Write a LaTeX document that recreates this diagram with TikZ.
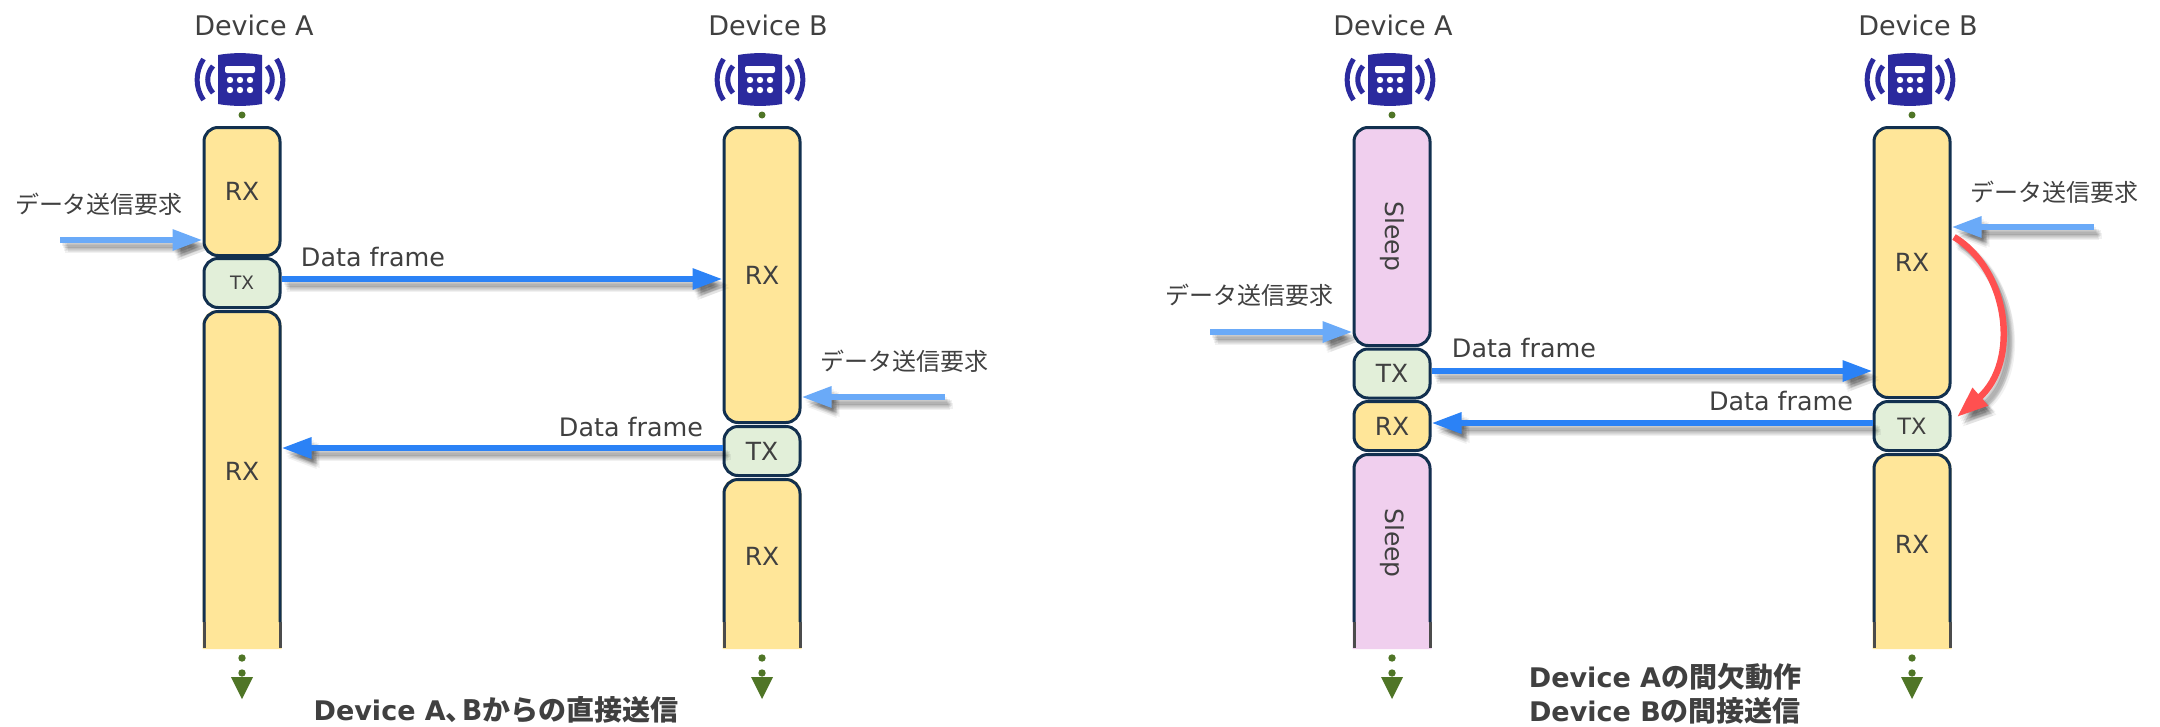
\documentclass[tikz,border=0pt]{standalone}
\usepackage{graphicx}
\usepackage{fontspec}
\setmainfont{DejaVu Sans}
\newfontfamily\cjk{Noto Sans CJK JP}
\usetikzlibrary{arrows.meta,calc}
\definecolor{txt}{HTML}{404040}
\definecolor{navy}{HTML}{12304F}
\definecolor{bandy}{HTML}{FFE699}
\definecolor{bandg}{HTML}{E2EFD9}
\definecolor{bandp}{HTML}{F0CFEE}
\definecolor{lblue}{HTML}{6AAAF8}
\definecolor{dblue}{HTML}{2B82F6}
\definecolor{redarr}{HTML}{FF5050}
\definecolor{devblue}{HTML}{2B2A9E}
\definecolor{grn}{HTML}{4F7526}
\newcommand\fs[1]{\fontsize{#1}{#1}\selectfont}
\tikzset{
  bandbox/.style={draw=navy,line width=3pt,rounded corners=14pt,minimum width=76pt,inner sep=0pt,text=txt,font=\fs{25}},
  lab/.style={text=txt,inner sep=0pt,font=\fs{25.4}},
  devlab/.style={text=txt,inner sep=0pt,font=\fs{27}},
  reqlab/.style={text=txt,inner sep=0pt,font=\fs{24}\cjk},
  titlelab/.style={text=txt,inner sep=0pt,align=center,font=\fs{27}\bfseries},
  reqarrow/.style={line width=6pt,lblue,-{Triangle[length=30pt,width=20pt]}},
  dataarrow/.style={line width=6pt,dblue,-{Triangle[length=30pt,width=20pt]}},
  redarrow/.style={line width=6.5pt,redarr,-{Triangle[length=31pt,width=22pt]}}
}
\newcommand\shadowed[2]{%
  \foreach \sx/\sy in {2/-3,3/-5,5/-5,6/-7,4/-8,7/-6,5/-10,8/-9}{%
    \draw[#1,draw=black,opacity=.055,transform canvas={shift={(\sx pt,\sy pt)}}] #2;}
  \draw[#1] #2;}
% name, cx, top, fill, text y, text
\newcommand\openband[6]{%
  \fill[#4] ({#2-39.5},649) [rounded corners=15pt] -- ({#2-39.5},#3) -- ({#2+39.5},#3) [sharp corners] -- ({#2+39.5},649) -- cycle;
  \draw[navy,line width=3pt] ({#2-38},622) [rounded corners=14pt] -- ({#2-38},#3+1.5) -- ({#2+38},#3+1.5) [sharp corners] -- ({#2+38},622);
  \draw[black!70,line width=3pt] ({#2-38},622) -- ({#2-38},648) ({#2+38},622) -- ({#2+38},648);
  \coordinate (#1-w) at ({#2-39.5},#5);
  \coordinate (#1-e) at ({#2+39.5},#5);
  \node[text=txt,inner sep=0pt,font=\fs{25}] (#1) at (#2,#5) {#6};}
\newcommand\deviceicon[1]{%
  \begin{scope}[shift={(#1,0)}]
    \fill[devblue] (-22,55) .. controls (-8,52.5) and (8,52.5) .. (22,55) -- (22,104) .. controls (8,106.5) and (-8,106.5) .. (-22,104) -- cycle;
    \fill[white,rounded corners=2pt] (-15,66) rectangle (15,73);
    \foreach \dx in {-10,0,10}{\foreach \dy in {80,90}{\fill[white] (\dx,\dy) circle (3.2pt);}}
    \foreach \sg in {-1,1}{
      \draw[devblue,line width=5pt] (\sg*36.5,59) .. controls (\sg*45,72) and (\sg*45,88) .. (\sg*36.5,100);
      \draw[devblue,line width=5pt] (\sg*27,66) .. controls (\sg*34,74) and (\sg*34,85) .. (\sg*27,93);
    }
    \fill[grn] (2,115) circle (3.5pt);
  \end{scope}}
\newcommand\downmark[1]{%
  \fill[grn] (#1,658) circle (3.7pt);
  \fill[grn] (#1,673) circle (3.7pt);
  \fill[grn] ({#1-11},677) -- ({#1+11},677) -- (#1,699) -- cycle;}
\newcommand\sleeptext{\rotatebox[origin=c]{-90}{\fs{25}Sleep}}
\begin{document}
\begin{tikzpicture}[x=1pt,y=-1pt]
\useasboundingbox (0,0) rectangle (2160,726);
\fill[white] (0,0) rectangle (2160,726);
% ---------- left diagram
\node[devlab] (devA1) at (254,25) {Device A};
\node[devlab] (devB1) at (768,25) {Device B};
\deviceicon{240}
\deviceicon{760}
\openband{la2}{242}{310}{bandy}{471}{RX}
\node[bandbox,fill=bandy,minimum height=128pt] (la1) at (242,191.5) {RX};
\node[bandbox,fill=bandg,minimum height=49pt,font=\fs{18.5}] (lat) at (242,283) {TX};
\openband{lb3}{762}{478}{bandy}{556.5}{RX}
\node[bandbox,fill=bandy,minimum height=295pt] (lb1) at (762,275) {RX};
\node[bandbox,fill=bandg,minimum height=49pt,font=\fs{25}] (lbt) at (762,451) {TX};
\downmark{242}
\downmark{762}
\coordinate (y1) at (0,240);
\coordinate (y2) at (0,279);
\coordinate (y3) at (0,397);
\coordinate (y4) at (0,448);
\coordinate (s1) at (60,240);
\coordinate (s2) at (945,397);
\shadowed{reqarrow}{(s1) -- (la1.west |- y1)}
\shadowed{dataarrow}{(lat.east |- y2) -- (lb1.west |- y2)}
\shadowed{reqarrow}{(s2) -- (lb1.east |- y3)}
\shadowed{dataarrow}{(lbt.west |- y4) -- (la2-e |- y4)}
\node[reqlab] (q1) at (99,204) {データ送信要求};
\node[reqlab] (q2) at (904,361) {データ送信要求};
\node[lab] (f1) at (373,257) {Data frame};
\node[lab] (f2) at (631,427) {Data frame};
\node[titlelab] (t1) at (496,710) {Device A{\cjk\fs{28}\bfseries 、\kern-11pt Bからの直接送信}};
% ---------- right diagram
\node[devlab] (devA2) at (1393,25) {Device A};
\node[devlab] (devB2) at (1918,25) {Device B};
\deviceicon{1390}
\deviceicon{1910}
\openband{ra4}{1392}{453}{bandp}{543}{\sleeptext}
\node[bandbox,fill=bandp,minimum height=218pt] (ra1) at (1392,236.5) {\sleeptext};
\node[bandbox,fill=bandg,minimum height=49pt,font=\fs{25}] (rat) at (1392,373.5) {TX};
\node[bandbox,fill=bandy,minimum height=49pt,font=\fs{25}] (rar) at (1392,426) {RX};
\openband{rb3}{1912}{453}{bandy}{544}{RX}
\node[bandbox,fill=bandy,minimum height=270pt] (rb1) at (1912,262.5) {RX};
\node[bandbox,fill=bandg,minimum height=49pt,font=\fs{22.5}] (rbt) at (1912,426) {TX};
\downmark{1392}
\downmark{1912}
\coordinate (y5) at (0,332);
\coordinate (y6) at (0,371);
\coordinate (y7) at (0,423);
\coordinate (y8) at (0,227);
\coordinate (s3) at (1210,332);
\coordinate (s4) at (2094,227);
\coordinate (r0) at (1954,237);
\coordinate (r1) at (1957,417);
\shadowed{reqarrow}{(s3) -- (ra1.west |- y5)}
\shadowed{dataarrow}{(rat.east |- y6) -- (rb1.west |- y6)}
\shadowed{dataarrow}{(rbt.west |- y7) -- (rar.east |- y7)}
\shadowed{reqarrow}{(s4) -- (rb1.east |- y8)}
\shadowed{redarrow}{(r0) .. controls (2009,270) and (2020,362) .. (r1)}
\node[reqlab] (q3) at (1249,295) {データ送信要求};
\node[reqlab] (q4) at (2054,192) {データ送信要求};
\node[lab] (f3) at (1524,348) {Data frame};
\node[lab] (f4) at (1781,401) {Data frame};
\node[titlelab] (t2) at (1665,694) {Device A{\cjk\fs{28}\bfseries の間欠動作}\\[7pt]Device B{\cjk\fs{28}\bfseries の間接送信}};
\end{tikzpicture}
\end{document}
